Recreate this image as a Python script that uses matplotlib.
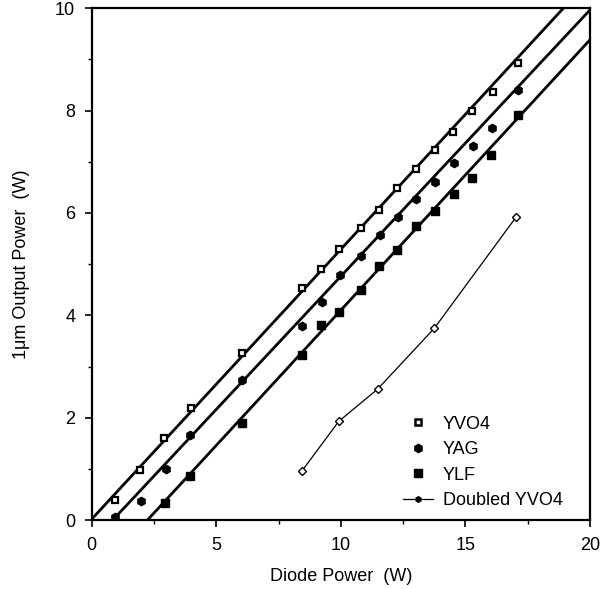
import matplotlib
matplotlib.use("Agg")
import matplotlib.pyplot as plt
from matplotlib.lines import Line2D
import numpy as np

plt.rcParams['font.family'] = ['Liberation Sans', 'DejaVu Sans']

# measured points (diode power W, output power W)
yvo4_x = [0.92, 1.92, 2.88, 4.0, 6.04, 8.44, 9.2, 9.92, 10.8, 11.52, 12.24, 13.0, 13.8, 14.52, 15.28, 16.12, 17.12]
yvo4_y = [0.39, 0.98, 1.6, 2.19, 3.26, 4.53, 4.9, 5.29, 5.70, 6.05, 6.48, 6.86, 7.23, 7.58, 7.99, 8.36, 8.93]

yag_x = [0.92, 1.96, 2.96, 3.96, 6.04, 8.44, 9.24, 9.96, 10.8, 11.56, 12.28, 13.04, 13.8, 14.56, 15.32, 16.08, 17.12]
yag_y = [0.06, 0.37, 0.99, 1.66, 2.73, 3.79, 4.26, 4.79, 5.16, 5.57, 5.92, 6.27, 6.6, 6.97, 7.30, 7.66, 8.40]

ylf_x = [2.92, 3.96, 6.04, 8.44, 9.2, 9.92, 10.8, 11.52, 12.24, 13.0, 13.8, 14.56, 15.28, 16.04, 17.12]
ylf_y = [0.33, 0.86, 1.89, 3.22, 3.81, 4.06, 4.49, 4.96, 5.27, 5.74, 6.04, 6.37, 6.68, 7.13, 7.91]

dbl_x = [8.44, 9.92, 11.48, 13.76, 17.04]
dbl_y = [0.96, 1.93, 2.56, 3.75, 5.92]

# straight-line fits: [x_start, x_end, slope, intercept]
yvo4_fit = [0.0, 19.0, 0.527, 0.02]
yag_fit = [0.84, 20.0, 0.52, -0.437]
ylf_fit = [2.24, 20.0, 0.528, -1.18]

fig = plt.figure(figsize=(6.0, 5.89), dpi=100)
ax = fig.add_axes([0.153, 0.117, 0.830, 0.869])

for fit in (yvo4_fit, yag_fit, ylf_fit):
    fx = np.array([fit[0], fit[1]])
    ax.plot(fx, fit[2] * fx + fit[3], color='black', lw=2.0, zorder=2)

ax.plot(yvo4_x, yvo4_y, ls='none', marker='s', ms=5, mfc='white', mec='black', mew=1.6, zorder=3)
ax.plot(yag_x, yag_y, ls='none', marker='h', ms=6, color='black', zorder=3)
ax.plot(ylf_x, ylf_y, ls='none', marker='s', ms=6, color='black', zorder=3)
ax.plot(dbl_x, dbl_y, color='black', lw=0.9, marker='D', ms=4, mfc='white', mec='black', mew=1.0, zorder=3)

ax.set_xlim(0, 20)
ax.set_ylim(0, 10)
ax.set_xticks([0, 5, 10, 15, 20])
ax.set_yticks([0, 2, 4, 6, 8, 10])
ax.set_xticks([2.5, 7.5, 12.5, 17.5], minor=True)
ax.set_yticks([1, 3, 5, 7, 9], minor=True)
ax.tick_params(which='major', direction='out', length=5, width=1.2, labelsize=13, pad=7)
ax.tick_params(which='minor', direction='out', length=3, width=1.0)
for s in ax.spines.values():
    s.set_linewidth(1.6)

ax.set_xlabel('Diode Power  (W)', fontsize=13, labelpad=10)
ax.set_ylabel('1\u03bcm Output Power  (W)', fontsize=13, labelpad=18)

handles = [
    Line2D([], [], ls='none', marker='s', ms=5, mfc='white', mec='black', mew=1.8),
    Line2D([], [], ls='none', marker='h', ms=6, color='black'),
    Line2D([], [], ls='none', marker='s', ms=6, color='black'),
    Line2D([], [], color='black', lw=0.9, marker='h', ms=4),
]
ax.legend(handles, ['YVO4', 'YAG', 'YLF', 'Doubled YVO4'], loc='upper left',
          bbox_to_anchor=(0.624, 0.204), frameon=False, fontsize=13,
          borderpad=0, borderaxespad=0, handlelength=1.67, handletextpad=0.55,
          labelspacing=0.47)

fig.savefig('out.png', dpi=100)
